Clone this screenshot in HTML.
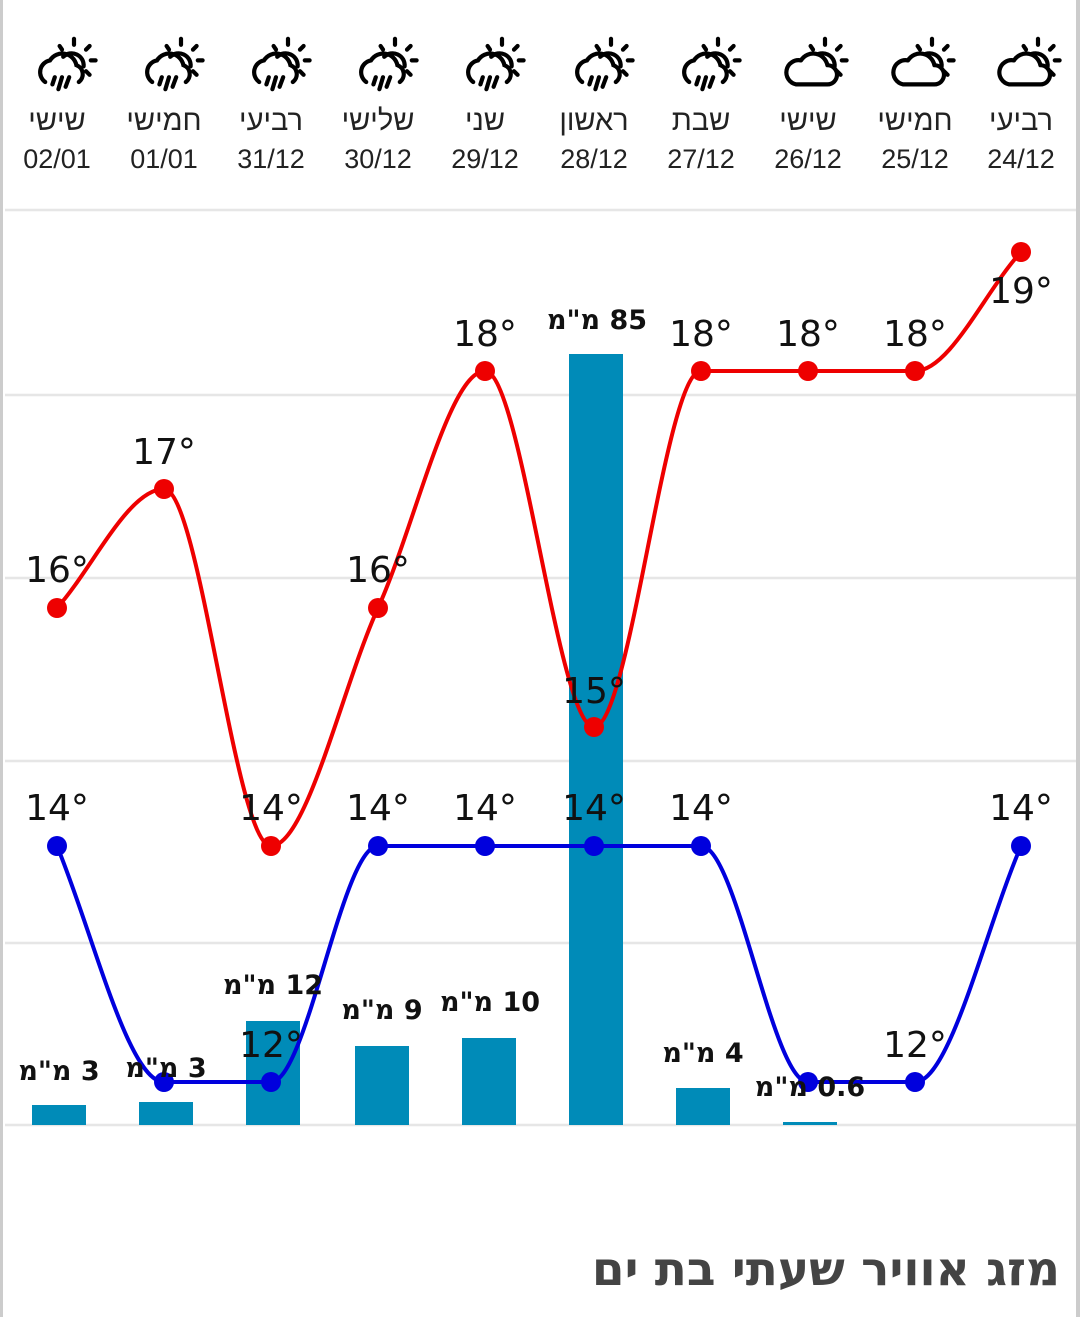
<!DOCTYPE html>
<html><head><meta charset="utf-8"><style>
html,body{margin:0;padding:0;background:#fff;}
body{width:1080px;height:1317px;overflow:hidden;position:relative;}
svg{position:absolute;left:0;top:0;}
</style></head><body>
<svg width="1080" height="1317" viewBox="0 0 1080 1317" xmlns="http://www.w3.org/2000/svg" font-family="Liberation Sans, DejaVu Sans, sans-serif">
<defs>
<g id="sun" fill="none" stroke="#000" stroke-width="3.5" stroke-linecap="round">
<line x1="14" y1="-26" x2="14" y2="-21"/><line x1="27" y1="-20" x2="24" y2="-17"/><line x1="32" y1="-8" x2="28" y2="-8"/><line x1="27" y1="4" x2="24" y2="1"/><line x1="2" y1="-20" x2="4" y2="-17"/>
<path d="M5 -11 A10 10 0 0 1 22 -3"/>
</g>
<g id="cloudsun"><use href="#sun"/><path d="M-10 12 H16 A8 8 0 0 0 16 -4 A12 12 0 0 0 -6 -8 A10 10 0 0 0 -10 12 Z" fill="#fff" stroke="#000" stroke-width="3.5" stroke-linejoin="round"/></g>
<g id="rain"><use href="#sun"/><path d="M-10 10 A10 10 0 0 1 -6 -8 A12 12 0 0 1 16 -4 A8 8 0 0 1 18 10" fill="none" stroke="#000" stroke-width="3.5" stroke-linecap="round"/>
<g stroke="#000" stroke-width="3.5" stroke-linecap="round"><line x1="-2" y1="6" x2="-4" y2="12"/><line x1="4" y1="6" x2="1" y2="16"/><line x1="10" y1="6" x2="7" y2="14"/></g></g>
</defs>
<rect x="0" y="0" width="3" height="1317" fill="#ccc"/>
<rect x="1076" y="0" width="4" height="1317" fill="#ccc"/>
<g stroke="#e6e6e6" stroke-width="2.5">
<line x1="5" y1="210" x2="1076" y2="210"/><line x1="5" y1="395" x2="1076" y2="395"/><line x1="5" y1="578" x2="1076" y2="578"/><line x1="5" y1="761" x2="1076" y2="761"/><line x1="5" y1="943" x2="1076" y2="943"/><line x1="5" y1="1125" x2="1076" y2="1125"/>
</g>
<g>
<g transform="translate(62 70) scale(1.2)"><use href="#rain" x="-4" y="0"/></g>
<g transform="translate(169 70) scale(1.2)"><use href="#rain" x="-4" y="0"/></g>
<g transform="translate(276 70) scale(1.2)"><use href="#rain" x="-4" y="0"/></g>
<g transform="translate(383 70) scale(1.2)"><use href="#rain" x="-4" y="0"/></g>
<g transform="translate(490 70) scale(1.2)"><use href="#rain" x="-4" y="0"/></g>
<g transform="translate(599 70) scale(1.2)"><use href="#rain" x="-4" y="0"/></g>
<g transform="translate(706 70) scale(1.2)"><use href="#rain" x="-4" y="0"/></g>
<g transform="translate(813 70) scale(1.2)"><use href="#cloudsun" x="-4" y="0"/></g>
<g transform="translate(920 70) scale(1.2)"><use href="#cloudsun" x="-4" y="0"/></g>
<g transform="translate(1026 70) scale(1.2)"><use href="#cloudsun" x="-4" y="0"/></g>
</g>
<g font-family="Liberation Sans, DejaVu Sans, Noto Sans CJK JP, sans-serif" font-size="29" fill="#222" text-anchor="middle">
<text x="57" y="130">שישי</text><text x="164" y="130">חמישי</text><text x="271" y="130">רביעי</text><text x="378" y="130">שלישי</text><text x="485" y="130">שני</text><text x="594" y="130">ראשון</text><text x="701" y="130">שבת</text><text x="808" y="130">שישי</text><text x="915" y="130">חמישי</text><text x="1021" y="130">רביעי</text>
</g>
<g font-size="27" fill="#222" text-anchor="middle">
<text x="57" y="168">02/01</text><text x="164" y="168">01/01</text><text x="271" y="168">31/12</text><text x="378" y="168">30/12</text><text x="485" y="168">29/12</text><text x="594" y="168">28/12</text><text x="701" y="168">27/12</text><text x="808" y="168">26/12</text><text x="915" y="168">25/12</text><text x="1021" y="168">24/12</text>
</g>
<g fill="#008bb8">
<rect x="32" y="1105" width="54" height="20"/><rect x="139" y="1102" width="54" height="23"/><rect x="246" y="1021" width="54" height="104"/><rect x="355" y="1046" width="54" height="79"/><rect x="462" y="1038" width="54" height="87"/><rect x="569" y="354" width="54" height="771"/><rect x="676" y="1088" width="54" height="37"/><rect x="783" y="1122" width="54" height="3"/>
</g>
<path d="M57 608 C92.7 568.3 128.3 489 164 489 C199.7 489 235.3 846 271 846 C306.7 846 342.3 686.5 378 608 C413.7 529.5 449.3 371 485 371 C521 371 558 727 594 727 C630 727 665 371 701 371 L915 371 C950 371 985 291 1021 252" fill="none" stroke="#e00" stroke-width="4"/>
<path d="M57 846 C92.7 932 128.3 1082 164 1082 L271 1082 C306.7 1082 342.3 846 378 846 L701 846 C736.7 846 772.3 1082 808 1082 L915 1082 C950 1082 985 930 1021 846" fill="none" stroke="#00d" stroke-width="4"/>
<g fill="#e00"><circle cx="57" cy="608" r="10"/><circle cx="164" cy="489" r="10"/><circle cx="271" cy="846" r="10"/><circle cx="378" cy="608" r="10"/><circle cx="485" cy="371" r="10"/><circle cx="594" cy="727" r="10"/><circle cx="701" cy="371" r="10"/><circle cx="808" cy="371" r="10"/><circle cx="915" cy="371" r="10"/><circle cx="1021" cy="252" r="10"/></g>
<g fill="#00d"><circle cx="57" cy="846" r="10"/><circle cx="164" cy="1082" r="10"/><circle cx="271" cy="1082" r="10"/><circle cx="378" cy="846" r="10"/><circle cx="485" cy="846" r="10"/><circle cx="594" cy="846" r="10"/><circle cx="701" cy="846" r="10"/><circle cx="808" cy="1082" r="10"/><circle cx="915" cy="1082" r="10"/><circle cx="1021" cy="846" r="10"/></g>
<g font-family="DejaVu Sans, Liberation Sans, sans-serif" font-size="36" fill="#111" text-anchor="middle">
<text x="57" y="582">16°</text><text x="164" y="464">17°</text><text x="271" y="820">14°</text><text x="378" y="582">16°</text><text x="485" y="346">18°</text><text x="594" y="703">15°</text><text x="701" y="346">18°</text><text x="808" y="346">18°</text><text x="915" y="346">18°</text><text x="1021" y="303">19°</text>
<text x="57" y="820">14°</text><text x="271" y="1057">12°</text><text x="378" y="820">14°</text><text x="485" y="820">14°</text><text x="594" y="820">14°</text><text x="701" y="820">14°</text><text x="915" y="1057">12°</text><text x="1021" y="820">14°</text>
</g>
<g font-family="DejaVu Sans, Liberation Sans, sans-serif" font-size="27" font-weight="bold" fill="#111" text-anchor="middle" direction="rtl">
<text x="59" y="1080" direction="rtl">3 מ"מ</text><text x="166" y="1077" direction="rtl">3 מ"מ</text><text x="273" y="994" direction="rtl">12 מ"מ</text><text x="382" y="1019" direction="rtl">9 מ"מ</text><text x="490" y="1011" direction="rtl">10 מ"מ</text><text x="597" y="329" direction="rtl">85 מ"מ</text><text x="703" y="1062" direction="rtl">4 מ"מ</text><text x="810" y="1096" direction="rtl">0.6 מ"מ</text>
</g>
<text x="1060" y="1285" text-anchor="end" font-family="DejaVu Sans, Liberation Sans, sans-serif" font-size="47" font-weight="bold" fill="#444">מזג אוויר שעתי בת ים</text>
</svg>
</body></html>
